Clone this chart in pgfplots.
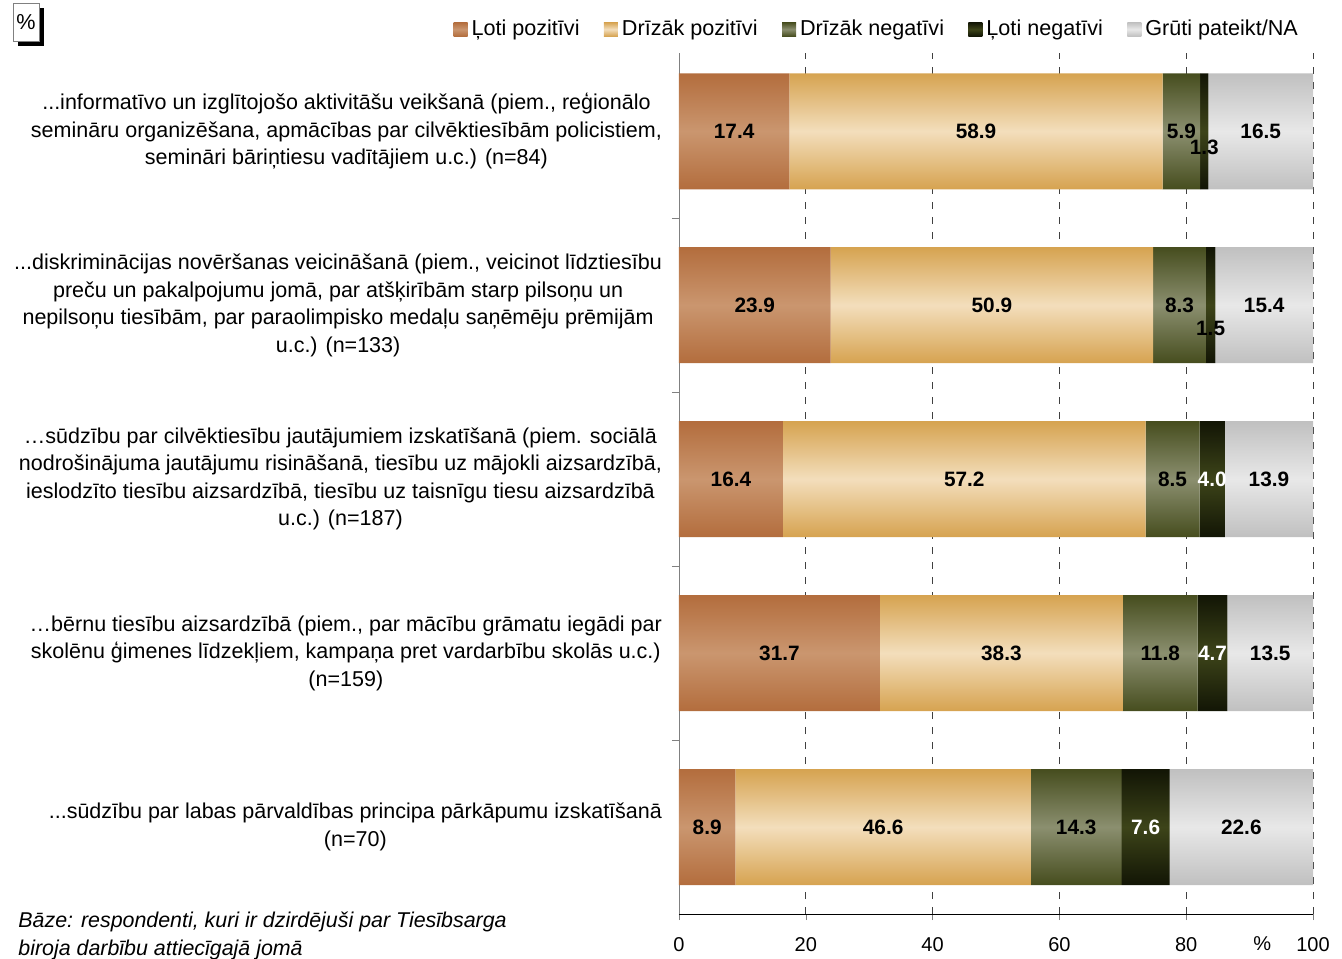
\documentclass[border=0pt]{standalone}
\usepackage{pgfplots}
\pgfplotsset{compat=1.18}
\usepackage{pgfplotstable}
\usepackage{fontspec}
\setmainfont{Liberation Sans}

\definecolor{c1e}{HTML}{B36D3D}\definecolor{c1m}{HTML}{CA966F}
\definecolor{c2e}{HTML}{D6A350}\definecolor{c2m}{HTML}{F3DEBC}
\definecolor{c3e}{HTML}{464D1E}\definecolor{c3m}{HTML}{8B8F6F}
\definecolor{c4e}{HTML}{121505}\definecolor{c4m}{HTML}{3D4419}
\definecolor{c5e}{HTML}{C0C0C0}\definecolor{c5m}{HTML}{E8E8E8}

% one series is one path, so the shading repeats once per bar
\newcommand\barshade[3]{\pgfdeclareverticalshading{#1}{100bp}{%
  color(0bp)=(#2); color(25bp)=(#2); color(28.5725bp)=(#3); color(32.145bp)=(#2);
  color(35.7138bp)=(#2); color(39.2863bp)=(#3); color(42.8588bp)=(#2);
  color(46.4276bp)=(#2); color(50.0001bp)=(#3); color(53.5726bp)=(#2);
  color(57.1414bp)=(#2); color(60.7139bp)=(#3); color(64.2864bp)=(#2);
  color(67.8552bp)=(#2); color(71.4277bp)=(#3); color(75.0002bp)=(#2);
  color(100bp)=(#2)}}
\barshade{shA}{c1e}{c1m}
\barshade{shB}{c2e}{c2m}
\barshade{shC}{c3e}{c3m}
\barshade{shD}{c4e}{c4m}
\barshade{shE}{c5e}{c5m}

% c = category, 0 is the bottom bar
\pgfplotstableread{
c v
0 8.9
1 31.7
2 16.4
3 23.9
4 17.4
}\tA
\pgfplotstableread{
c v
0 46.6
1 38.3
2 57.2
3 50.9
4 58.9
}\tB
\pgfplotstableread{
c v
0 14.3
1 11.8
2 8.5
3 8.3
4 5.9
}\tC
% dy = label moved down (pt), tw = 100 for a white label
\pgfplotstableread{
c v dy tw
0 7.6 0 100
1 4.7 0 100
2 4.0 0 100
3 1.5 11.5 0
4 1.3 8 0
}\tD
\pgfplotstableread{
c v
0 22.6
1 13.5
2 13.9
3 15.4
4 16.5
}\tE

\def\dy{0}\def\tw{0}
\def\dd{{.}{.}{.}}

\begin{document}
\begin{tikzpicture}
\useasboundingbox (-339.5pt,-22pt) rectangle (331.5pt,457pt);
\begin{axis}[
  at={(0,0)}, anchor=south west,
  scale only axis, width=317pt, height=430.5pt,
  xbar stacked, bar width=58pt,
  xmin=0, xmax=100, ymin=-0.5, ymax=4.45,
  enlargelimits=false,
  axis x line*=bottom, axis y line*=left,
  x axis line style={black}, y axis line style={gray},
  tick align=outside,
  major tick length=3pt, minor tick length=3.5pt,
  xtick={0,20,40,60,80,100},
  xmajorgrids,
  major x grid style={black!75, dash pattern=on 3.5pt off 4pt},
  extra x ticks={92}, extra x tick labels={\%},
  extra x tick style={grid=none, tick style={draw=none}},
  xticklabel style={yshift=-5pt, font=\fontsize{10}{12}\selectfont},
  /pgf/number format/assume math mode=true,
  ytick={0,1,2,3,4},
  yticklabels={
    {\dd sūdzību par labas pārvaldības principa pārkāpumu izskatīšanā\\(n=70)},
    {…bērnu tiesību aizsardzībā (piem., par mācību grāmatu iegādi par\\skolēnu ģimenes līdzekļiem, kampaņa pret vardarbību skolās u.c.)\\(n=159)},
    {…sūdzību par cilvēktiesību jautājumiem izskatīšanā (piem. sociālā\\nodrošinājuma jautājumu risināšanā, tiesību uz mājokli aizsardzībā,\\ieslodzīto tiesību aizsardzībā, tiesību uz taisnīgu tiesu aizsardzībā\\u.c.) (n=187)},
    {\dd diskriminācijas novēršanas veicināšanā (piem., veicinot līdztiesību\\preču un pakalpojumu jomā, par atšķirībām starp pilsoņu un\\nepilsoņu tiesībām, par paraolimpisko medaļu saņēmēju prēmijām\\u.c.) (n=133)},
    {\dd informatīvo un izglītojošo aktivitāšu veikšanā (piem., reģionālo\\semināru organizēšana, apmācības par cilvēktiesībām policistiem,\\semināri bāriņtiesu vadītājiem u.c.) (n=84)}},
  yticklabel style={align=center, xshift=-2pt, font=\fontsize{10.75}{13.75}\selectfont},
  minor ytick={0.5,1.5,2.5,3.5},
  major y tick style={draw=none},
  minor y tick style={draw=gray},
  visualization depends on={\thisrow{v}\as\rawv},
  nodes near coords={\pgfmathprintnumber[fixed,fixed zerofill,precision=1]{\rawv}},
  every node near coord/.append style={anchor=center,
    yshift={-\dy*1pt}, text=white!\tw!black, font=\bfseries\fontsize{10.4}{12}\selectfont},
  legend columns=5,
  legend style={draw=none, fill=none, inner sep=0pt,
    at={(axis description cs:0.983,1.0275)}, anchor=east,
    font=\fontsize{10.8}{12}\selectfont,
    /tikz/every even column/.append style={column sep=10.2pt}},
  legend image code/.code={\path[#1, draw=none] (0pt,-3.5pt) rectangle (7pt,3.5pt);},
]
\addlegendimage{top color=c1e, bottom color=c1e, middle color=c1m}
\addlegendimage{top color=c2e, bottom color=c2e, middle color=c2m}
\addlegendimage{top color=c3e, bottom color=c3e, middle color=c3m}
\addlegendimage{top color=c4e, bottom color=c4e, middle color=c4m}
\addlegendimage{top color=c5e, bottom color=c5e, middle color=c5m}
\addplot[draw=none, shade, shading=shA] table[x=v,y=c] {\tA};
\addplot[draw=none, shade, shading=shB] table[x=v,y=c] {\tB};
\addplot[draw=none, shade, shading=shC] table[x=v,y=c] {\tC};
\addplot[draw=none, shade, shading=shD,
  visualization depends on={\thisrow{dy}\as\dy},
  visualization depends on={\thisrow{tw}\as\tw}] table[x=v,y=c] {\tD};
\addplot[draw=none, shade, shading=shE] table[x=v,y=c] {\tE};
\legend{Ļoti pozitīvi, Drīzāk pozitīvi, Drīzāk negatīvi, Ļoti negatīvi, Grūti pateikt/NA}
\end{axis}
% percent box in the top left corner
\fill[black] (-330.5pt,434pt) rectangle (-317.5pt,453pt);
\draw[gray, fill=white] (-333pt,436.5pt) rectangle (-320pt,455.5pt);
\node[font=\fontsize{10.8}{12}\selectfont] at (-326.5pt,446pt) {\%};
\node[anchor=north west, inner sep=0pt, align=left,
  font=\itshape\fontsize{10.7}{13.75}\selectfont] at (-330.5pt,1pt)
  {Bāze: respondenti, kuri ir dzirdējuši par Tiesībsarga\\biroja darbību attiecīgajā jomā};
\end{tikzpicture}
\end{document}
